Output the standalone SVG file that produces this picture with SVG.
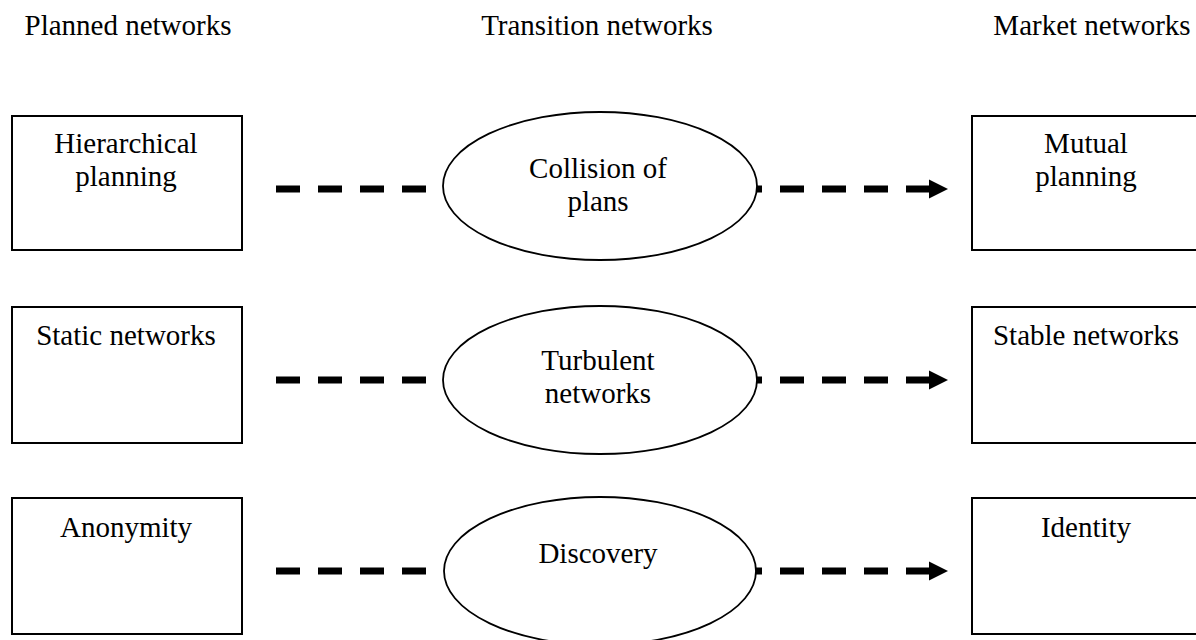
<svg xmlns="http://www.w3.org/2000/svg" width="1196" height="640" viewBox="0 0 1196 640">
<style>
text{font-family:"Liberation Serif","Times New Roman",serif;font-size:29px;fill:#000;text-anchor:middle}
.box{fill:#fff;stroke:#000;stroke-width:2}
.ell{fill:#fff;stroke:#000;stroke-width:1.8}
.dash{stroke:#000;stroke-width:7;stroke-dasharray:24 18;fill:none}
.head{fill:#000}
</style>
<rect width="1196" height="640" fill="#fff"/>
<g id="titles">
<text x="128" y="35">Planned networks</text>
<text x="597" y="35">Transition networks</text>
<text x="1092" y="35">Market networks</text>
</g>
<g id="connectors">
<line class="dash" x1="276" y1="189" x2="426" y2="189"/>
<line class="dash" x1="738" y1="189" x2="930" y2="189"/>
<polygon class="head" points="929,179.5 948,189 929,198.5"/>
<line class="dash" x1="276" y1="380" x2="426" y2="380"/>
<line class="dash" x1="738" y1="380" x2="930" y2="380"/>
<polygon class="head" points="929,370.5 948,380 929,389.5"/>
<line class="dash" x1="276" y1="571" x2="426" y2="571"/>
<line class="dash" x1="738" y1="571" x2="930" y2="571"/>
<polygon class="head" points="929,561.5 948,571 929,580.5"/>
</g>
<g id="hierarchical-planning">
<rect class="box" x="12" y="116" width="230" height="134"/>
<text x="126" y="153">Hierarchical</text>
<text x="126" y="186">planning</text>
</g>
<g id="collision-of-plans">
<ellipse class="ell" cx="600" cy="186" rx="157" ry="74"/>
<text x="598" y="178">Collision of</text>
<text x="598" y="211">plans</text>
</g>
<g id="mutual-planning">
<rect class="box" x="972" y="116" width="230" height="134"/>
<text x="1086" y="153">Mutual</text>
<text x="1086" y="186">planning</text>
</g>
<g id="static-networks">
<rect class="box" x="12" y="307" width="230" height="136"/>
<text x="126" y="345">Static networks</text>
</g>
<g id="turbulent-networks">
<ellipse class="ell" cx="600" cy="380" rx="157" ry="74"/>
<text x="598" y="370">Turbulent</text>
<text x="598" y="403">networks</text>
</g>
<g id="stable-networks">
<rect class="box" x="972" y="307" width="230" height="136"/>
<text x="1086" y="345">Stable networks</text>
</g>
<g id="anonymity">
<rect class="box" x="12" y="498" width="230" height="136"/>
<text x="126" y="537">Anonymity</text>
</g>
<g id="discovery">
<ellipse class="ell" cx="600" cy="571" rx="156" ry="74"/>
<text x="598" y="563">Discovery</text>
</g>
<g id="identity">
<rect class="box" x="972" y="498" width="230" height="136"/>
<text x="1086" y="537">Identity</text>
</g>
</svg>
